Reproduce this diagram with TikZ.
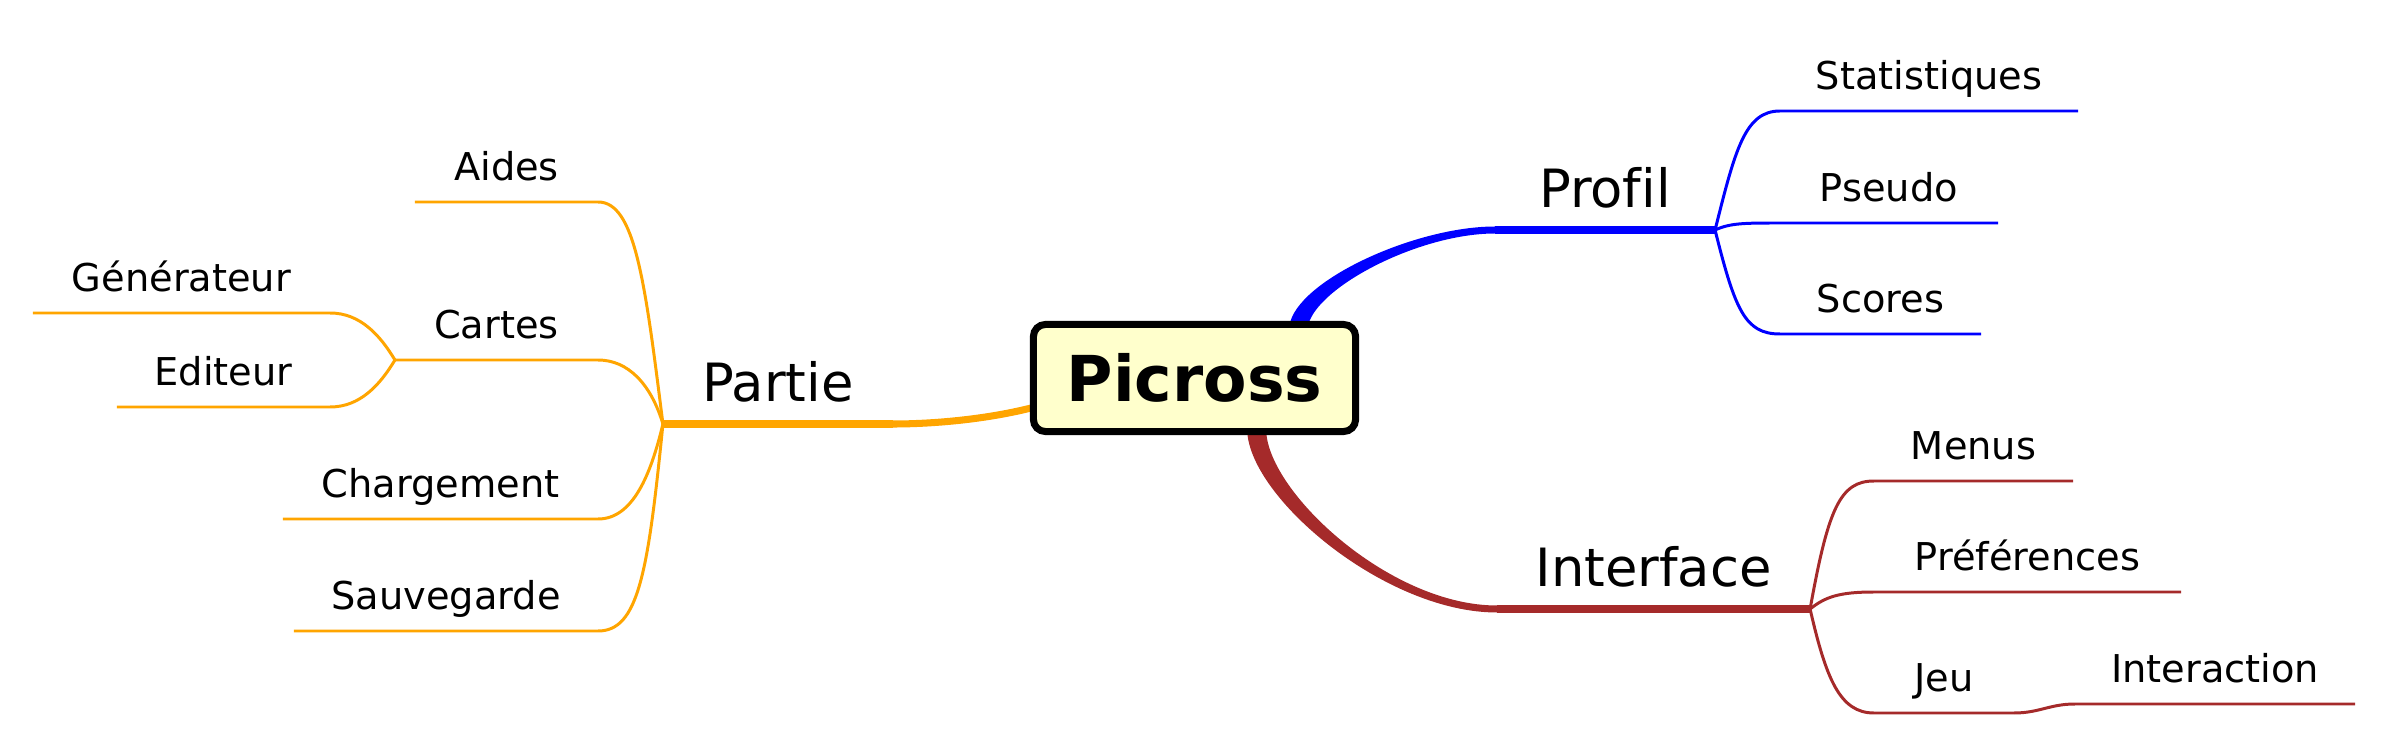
\documentclass[tikz,border=0pt]{standalone}
\usepackage{fontspec}
\setmainfont{DejaVu Sans}[Ligatures=NoCommon]
\usetikzlibrary{calc,backgrounds}

\definecolor{bleuProfil}{HTML}{0000FF}
\definecolor{rougeInterface}{HTML}{A52A2A}
\definecolor{orangePartie}{HTML}{FFA500}
\definecolor{fondPicross}{HTML}{FFFFCC}

\begin{document}
\begin{tikzpicture}[
    x=0.01cm, y=-0.01cm,
    centre/.style={draw=black, fill=fondPicross, line width=2pt, rounded corners=0.12cm, minimum width=3.22cm, minimum height=1.07cm, font=\bfseries\fontsize{18}{22}\selectfont},
    branche/.style={inner xsep=0pt, inner ysep=0.225cm, outer sep=0pt, text depth=0pt, anchor=south, font=\fontsize{15}{18}\selectfont},
    feuille/.style={inner xsep=0pt, inner ysep=0.21cm, outer sep=0pt, text depth=0pt, anchor=south, font=\fontsize{10.9}{13}\selectfont},
    tronc/.style={line width=2pt},
    lien/.style={line width=0.85pt}
]
    \useasboundingbox (0,0) rectangle (2388,746);

    % --- NOEUD CENTRAL ---
    \node[centre] (picross) at (1194.5,378) {Picross};
    \coordinate (baseProfil) at (1300,321);
    \coordinate (baseInterface) at (1257,435);
    \coordinate (basePartie) at (1035,407);

    % --- PROFIL (BLEU) ---
    \node[branche, minimum width=2.20cm] (profil) at (1605,230) {Profil};
    \node[feuille, minimum width=2.98cm] (stat) at (1929,111) {Statistiques};
    \node[feuille, minimum width=2.18cm] (pseudo) at (1889,223) {Pseudo};
    \node[feuille, minimum width=2.01cm] (scores) at (1880.5,334) {Scores};

    % --- INTERFACE (ROUGE) ---
    \node[branche, minimum width=3.13cm] (interface) at (1653.5,609) {Interface};
    \node[feuille, minimum width=1.99cm] (menus) at (1973.5,481) {Menus};
    \node[feuille, minimum width=3.07cm] (prefs) at (2027.5,592) {Préférences};
    \node[feuille, minimum width=1.40cm] (jeu) at (1944,713) {Jeu};
    \node[feuille, minimum width=2.80cm] (interaction) at (2215,704) {Interaction};

    % --- PARTIE (ORANGE) ---
    \node[branche, minimum width=2.30cm] (partie) at (778,424) {Partie};
    \node[feuille, minimum width=1.83cm] (aides) at (506.5,202) {Aides};
    \node[feuille, minimum width=2.03cm] (cartes) at (496.5,360) {Cartes};
    \node[feuille, minimum width=2.97cm] (generateur) at (181.5,313) {Générateur};
    \node[feuille, minimum width=2.13cm] (editeur) at (223.5,407) {Editeur};
    \node[feuille, minimum width=3.15cm] (chargement) at (440.5,519) {Chargement};
    \node[feuille, minimum width=3.04cm] (sauvegarde) at (446,631) {Sauvegarde};

    \begin{scope}[on background layer]
    % troncs effiles depuis le noeud central
    \fill[bleuProfil] ($(baseProfil)+(-9.5,15)$) -- ($(baseProfil)+(-9.5,0)$)
        .. controls +(14,-44) and +(-77,0) .. ($(profil.south west)+(0,-3.5)$)
        -- ($(profil.south west)+(0,3.5)$)
        .. controls +(-73,0) and +(15,-38) .. ($(baseProfil)+(9.5,0)$)
        -- ($(baseProfil)+(9.5,15)$) -- cycle;
    \fill[rougeInterface] ($(baseInterface)+(-9.5,-15)$) -- ($(baseInterface)+(-9.5,0)$)
        .. controls +(8,68) and +(-109,0) .. ($(interface.south west)+(0,3.5)$)
        -- ($(interface.south west)+(0,-3.5)$)
        .. controls +(-105,0) and +(7,62) .. ($(baseInterface)+(9.5,0)$)
        -- ($(baseInterface)+(9.5,-15)$) -- cycle;
    \draw[orangePartie, tronc] ($(basePartie)+(15,-2)$) -- (basePartie)
        .. controls +(-50,13) and +(37,0) .. (partie.south east);

    % --- LIENS PROFIL ---
    \draw[bleuProfil, tronc] (profil.south west) -- (profil.south east);
    \draw[bleuProfil, lien] (profil.south east) .. controls +(20,-80) and +(-35,0) .. (stat.south west) -- (stat.south east);
    \draw[bleuProfil, lien] (profil.south east) .. controls +(15,-7) and +(-35,0) .. (pseudo.south west) -- (pseudo.south east);
    \draw[bleuProfil, lien] (profil.south east) .. controls +(20,80) and +(-35,0) .. (scores.south west) -- (scores.south east);

    % --- LIENS INTERFACE ---
    \draw[rougeInterface, tronc] (interface.south west) -- (interface.south east);
    \draw[rougeInterface, lien] (interface.south east) .. controls +(18,-100) and +(-34,0) .. (menus.south west) -- (menus.south east);
    \draw[rougeInterface, lien] (interface.south east) .. controls +(15,-12) and +(-35,0) .. (prefs.south west) -- (prefs.south east);
    \draw[rougeInterface, lien] (interface.south east) .. controls +(16,70) and +(-34,0) .. (jeu.south west) -- (jeu.south east);
    \draw[rougeInterface, lien] (jeu.south east) .. controls +(25,0) and +(-25,0) .. (interaction.south west) -- (interaction.south east);

    % --- LIENS PARTIE ---
    \draw[orangePartie, tronc] (partie.south east) -- (partie.south west);
    \draw[orangePartie, lien] (partie.south west) .. controls +(-18,-143) and +(37,0) .. (aides.south east) -- (aides.south west);
    \draw[orangePartie, lien] (partie.south west) .. controls +(-12,-40) and +(30,0) .. (cartes.south east) -- (cartes.south west);
    \draw[orangePartie, lien] (partie.south west) .. controls +(-12,50) and +(35,0) .. (chargement.south east) -- (chargement.south west);
    \draw[orangePartie, lien] (partie.south west) .. controls +(-15,150) and +(40,0) .. (sauvegarde.south east) -- (sauvegarde.south west);
    \draw[orangePartie, lien] (cartes.south west) .. controls +(-15,-25) and +(30,0) .. (generateur.south east) -- (generateur.south west);
    \draw[orangePartie, lien] (cartes.south west) .. controls +(-15,25) and +(30,0) .. (editeur.south east) -- (editeur.south west);
    \end{scope}
\end{tikzpicture}
\end{document}
